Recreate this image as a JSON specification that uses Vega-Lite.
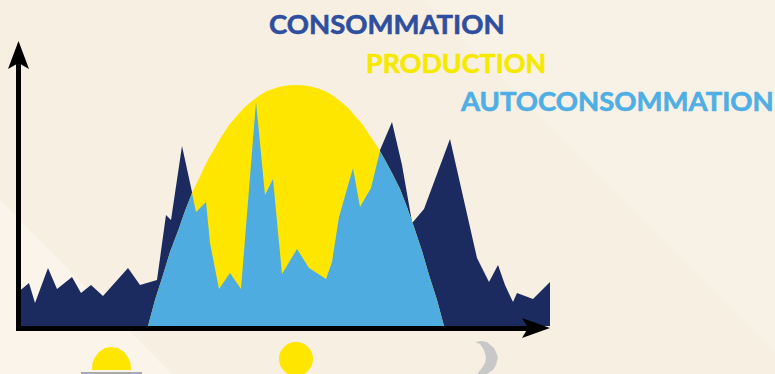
{
"$schema":"https://vega.github.io/schema/vega-lite/v6.json",
"width":775,"height":374,"padding":0,
"autosize":{"type":"fit","contains":"padding"},
"background":"#f7efe2",
"view":{"stroke":null},
"datasets":{
"backdrop":[
{"s":"lighter","i":1,"t":0,"v":174},{"s":"lighter","i":2,"t":172,"v":0},{"s":"lighter","i":3,"t":0,"v":0},
{"s":"faint","i":1,"t":423,"v":374},{"s":"faint","i":2,"t":775,"v":22},{"s":"faint","i":3,"t":775,"v":374}
],
"consommation":[
{"t":17,"v":81},{"t":29,"v":91},{"t":35,"v":71},{"t":48,"v":106},{"t":57,"v":85},{"t":72,"v":97},{"t":81,"v":81},{"t":91,"v":89},{"t":103,"v":78},{"t":128,"v":106},{"t":140,"v":89},{"t":157,"v":94},{"t":166,"v":159},{"t":171,"v":154},{"t":182,"v":228},{"t":192,"v":182},{"t":196,"v":162},{"t":206,"v":172},{"t":210,"v":131},{"t":219,"v":85},{"t":230,"v":101},{"t":241,"v":85},{"t":256,"v":272},{"t":265,"v":179},{"t":273,"v":195},{"t":282,"v":100},{"t":297,"v":125},{"t":309,"v":106},{"t":326,"v":95},{"t":332,"v":112},{"t":339,"v":157},{"t":353,"v":206},{"t":360,"v":167},{"t":371,"v":186},{"t":380,"v":224},{"t":392,"v":252},{"t":402,"v":209},{"t":412,"v":152},{"t":413,"v":152},{"t":424,"v":165},{"t":450,"v":235},{"t":477,"v":116},{"t":489,"v":92},{"t":498,"v":109},{"t":505,"v":89},{"t":513,"v":72},{"t":517,"v":81},{"t":533,"v":75},{"t":550,"v":92}
],
"production":[
{"t":148,"v":48},{"t":155,"v":74},{"t":163,"v":99},{"t":170,"v":122},{"t":178,"v":143},{"t":185,"v":163},{"t":192,"v":181},{"t":200,"v":197.6},{"t":207,"v":212.6},{"t":215,"v":226.2},{"t":222,"v":238.3},{"t":229,"v":249},{"t":237,"v":258.3},{"t":244,"v":266.3},{"t":252,"v":273},{"t":259,"v":278.3},{"t":266,"v":282.6},{"t":274,"v":285.6},{"t":281,"v":287.6},{"t":289,"v":288.7},{"t":296,"v":289},{"t":303,"v":288.7},{"t":311,"v":287.6},{"t":318,"v":285.6},{"t":326,"v":282.6},{"t":333,"v":278.3},{"t":340,"v":273},{"t":348,"v":266.3},{"t":355,"v":258.3},{"t":363,"v":249},{"t":370,"v":238.3},{"t":378,"v":226.2},{"t":385,"v":214},{"t":392,"v":201},{"t":400,"v":185},{"t":407,"v":167},{"t":414,"v":147},{"t":422,"v":123},{"t":429,"v":99},{"t":437,"v":74},{"t":444,"v":48}
],
"autoconsommation":[
{"t":148,"v":48},{"t":155,"v":74},{"t":163,"v":99},{"t":170,"v":122},{"t":178,"v":143},{"t":185,"v":163},{"t":192,"v":181},{"t":196,"v":162},{"t":206,"v":172},{"t":210,"v":131},{"t":219,"v":85},{"t":230,"v":101},{"t":241,"v":85},{"t":256,"v":272},{"t":265,"v":179},{"t":273,"v":195},{"t":282,"v":100},{"t":297,"v":125},{"t":309,"v":106},{"t":326,"v":95},{"t":332,"v":112},{"t":339,"v":157},{"t":353,"v":206},{"t":360,"v":167},{"t":371,"v":186},{"t":380,"v":223},{"t":385,"v":214},{"t":392,"v":201},{"t":400,"v":185},{"t":407,"v":167},{"t":414,"v":147},{"t":422,"v":123},{"t":429,"v":99},{"t":437,"v":74},{"t":444,"v":48}
],
"shapes":[
{"s":"axis-y","i":1,"t":16,"v":312},{"s":"axis-y","i":2,"t":21,"v":312},{"s":"axis-y","i":3,"t":21,"v":43},{"s":"axis-y","i":4,"t":16,"v":43},
{"s":"axis-x","i":1,"t":16,"v":48},{"s":"axis-x","i":2,"t":530,"v":48},{"s":"axis-x","i":3,"t":530,"v":43},{"s":"axis-x","i":4,"t":16,"v":43},
{"s":"head-y","i":1,"t":18.5,"v":333},{"s":"head-y","i":2,"t":29,"v":305},{"s":"head-y","i":3,"t":18.5,"v":311},{"s":"head-y","i":4,"t":8,"v":305},
{"s":"head-x","i":1,"t":550,"v":46},{"s":"head-x","i":2,"t":522,"v":56},{"s":"head-x","i":3,"t":528,"v":46},{"s":"head-x","i":4,"t":522,"v":36},
{"s":"dawn","i":1,"t":92,"v":4},{"s":"dawn","i":2,"t":92.5,"v":11},{"s":"dawn","i":3,"t":95,"v":17},{"s":"dawn","i":4,"t":99,"v":22},{"s":"dawn","i":5,"t":105,"v":26},{"s":"dawn","i":6,"t":111,"v":27},{"s":"dawn","i":7,"t":118,"v":26},{"s":"dawn","i":8,"t":124,"v":22},{"s":"dawn","i":9,"t":128,"v":17},{"s":"dawn","i":10,"t":130.5,"v":11},{"s":"dawn","i":11,"t":131,"v":4},
{"s":"horizon","i":1,"t":81,"v":2},{"s":"horizon","i":2,"t":142,"v":2},{"s":"horizon","i":3,"t":142,"v":0},{"s":"horizon","i":4,"t":81,"v":0},
{"s":"moon","i":1,"t":475,"v":32},{"s":"moon","i":2,"t":481,"v":33},{"s":"moon","i":3,"t":487,"v":32},{"s":"moon","i":4,"t":494,"v":26},{"s":"moon","i":5,"t":498,"v":17},{"s":"moon","i":6,"t":496,"v":9},{"s":"moon","i":7,"t":493,"v":4},{"s":"moon","i":8,"t":487,"v":0},{"s":"moon","i":9,"t":477,"v":0},{"s":"moon","i":10,"t":482,"v":6},{"s":"moon","i":11,"t":485,"v":11},{"s":"moon","i":12,"t":486,"v":17},{"s":"moon","i":13,"t":484,"v":24},{"s":"moon","i":14,"t":480,"v":30}
]
},
"encoding":{
 "x":{"field":"t","type":"quantitative","scale":{"domain":[0,775],"nice":false,"zero":false},"axis":null},
 "y":{"field":"v","type":"quantitative","scale":{"domain":[0,374],"nice":false,"zero":false},"axis":null}
},
"layer":[
{"data":{"name":"backdrop"},"mark":{"type":"line","clip":true,"strokeWidth":0},
 "encoding":{"order":{"field":"i","type":"quantitative"},
 "fill":{"field":"s","type":"nominal","legend":null,"scale":{"domain":["lighter","faint","axis-y","axis-x","head-y","head-x","dawn","horizon","moon"],"range":["#faf4ea","#f8f1e6","#000000","#000000","#000000","#000000","#ffe600","#aaaaaa","#c8c8c8"]}}}},
{"data":{"name":"consommation"},"mark":{"type":"area","color":"#1c2b5f","clip":true},
 "encoding":{"y2":{"datum":48}}},
{"data":{"name":"production"},"mark":{"type":"area","color":"#ffe600","clip":true},
 "encoding":{"y2":{"datum":48}}},
{"data":{"name":"autoconsommation"},"mark":{"type":"area","color":"#4facE0","clip":true},
 "encoding":{"y2":{"datum":48}}},
{"data":{"name":"shapes"},"mark":{"type":"line","clip":true,"strokeWidth":0},
 "encoding":{"order":{"field":"i","type":"quantitative"},
 "fill":{"field":"s","type":"nominal","legend":null,"scale":{"domain":["lighter","faint","axis-y","axis-x","head-y","head-x","dawn","horizon","moon"],"range":["#faf4ea","#f8f1e6","#000000","#000000","#000000","#000000","#ffe600","#aaaaaa","#c8c8c8"]}}}},
{"data":{"values":[{"t":296,"v":15}]},"mark":{"type":"point","filled":true,"opacity":1,"color":"#ffe600","size":1156,"clip":true}},
{"data":{"values":[{"t":269,"v":340,"label":"CONSOMMATION"},{"t":461,"v":263,"label":"AUTOCONSOMMATION"}]},
 "mark":{"type":"text","align":"left","baseline":"alphabetic","font":"Lato","fontWeight":"bold","fontSize":27.5,"strokeWidth":0.6,"clip":true},
 "encoding":{"text":{"field":"label"},
 "color":{"field":"label","type":"nominal","legend":null,"scale":{"domain":["CONSOMMATION","PRODUCTION","AUTOCONSOMMATION"],"range":["#2e4e9e","#f5e900","#4faee3"]}},
 "stroke":{"field":"label","type":"nominal","legend":null,"scale":{"domain":["CONSOMMATION","PRODUCTION","AUTOCONSOMMATION"],"range":["#2e4e9e","#f5e900","#4faee3"]}}}},
{"data":{"values":[{"t":366,"v":301,"label":"PRODUCTION"}]},
 "mark":{"type":"text","align":"left","baseline":"alphabetic","font":"Lato","fontWeight":"bold","fontSize":26.9,"strokeWidth":0.6,"clip":true},
 "encoding":{"text":{"field":"label"},
 "color":{"field":"label","type":"nominal","legend":null,"scale":{"domain":["CONSOMMATION","PRODUCTION","AUTOCONSOMMATION"],"range":["#2e4e9e","#f5e900","#4faee3"]}},
 "stroke":{"field":"label","type":"nominal","legend":null,"scale":{"domain":["CONSOMMATION","PRODUCTION","AUTOCONSOMMATION"],"range":["#2e4e9e","#f5e900","#4faee3"]}}}}
]
}
